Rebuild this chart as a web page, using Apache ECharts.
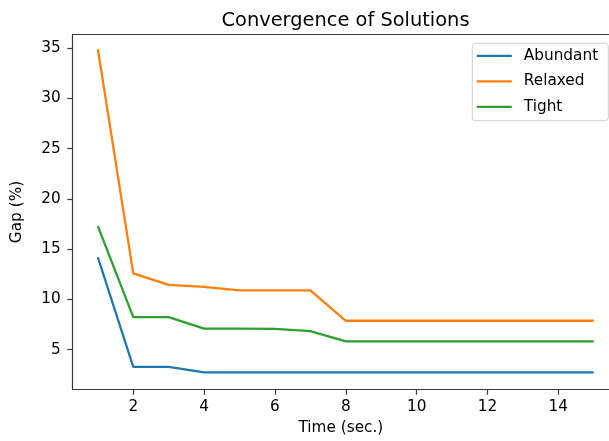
<!DOCTYPE html>
<html>
<head>
<meta charset="utf-8">
<script src="https://cdn.jsdelivr.net/npm/echarts@6/dist/echarts.min.js"></script>
<style>html,body{margin:0;padding:0;background:#fff;}#c{width:609px;height:441px;}</style>
</head>
<body>
<div id="c"></div>
<script>
const times = [1,2,3,4,5,6,7,8,9,10,11,12,13,14,15];
const abundant = [14.2,3.3,3.3,2.75,2.75,2.75,2.75,2.75,2.75,2.75,2.75,2.75,2.75,2.75,2.75];
const relaxed = [34.9,12.6,11.45,11.25,10.9,10.9,10.9,7.88,7.88,7.88,7.88,7.88,7.88,7.88,7.88];
const tight = [17.3,8.24,8.24,7.09,7.09,7.07,6.85,5.83,5.83,5.83,5.83,5.83,5.83,5.83,5.83];
const xTicks = [2,4,6,8,10,12,14];
const yTicks = [5,10,15,20,25,30,35];
const seriesNames = ['Abundant','Relaxed','Tight'];
const colors = ['#1f77b4','#ff7f0e','#2ca02c'];

const FONT = 'DejaVu Sans';
const FS = 15.3;
const SPINE = '#3a3a3a';
const pairs = arr => arr.map((v,i)=>[times[i], v]);

const chart = echarts.init(document.getElementById('c'), null, {renderer:'canvas'});
chart.setOption({
  animation: false,
  backgroundColor: '#fff',
  title: {
    text: 'Convergence of Solutions',
    left: 340.5, top: 6, textAlign: 'center',
    textStyle: {fontFamily: FONT, fontSize: 19.4, fontWeight: 'normal', color: '#000'}
  },
  grid: {
    left: 72.7, top: 34.7, right: 0, bottom: 51.7,
    show: false, containLabel: false
  },
  graphic: [{
    type: 'rect', shape: {x: 472.3, y: 43.3, width: 136, height: 77.4, r: 3},
    style: {fill: '#fff', stroke: '#d0d0d0', lineWidth: 1}, z: 5
  }],
  legend: {
    orient: 'vertical', left: 472.3, top: 43.3,
    padding: [5, 4, 9, 4.5],
    itemWidth: 35, itemHeight: 14, itemGap: 10.5,
    icon: 'path://M0,0H100V6.6H0Z',
    data: seriesNames,
    textStyle: {fontFamily: FONT, fontSize: FS, color: '#000', padding: [0,0,0,7]},
    z: 6
  },
  xAxis: [{
    type: 'value', min: 0.29, max: 15.43,
    name: 'Time (sec.)', nameLocation: 'middle', nameGap: 31,
    nameTextStyle: {fontFamily: FONT, fontSize: FS, color: '#000'},
    axisLine: {show: true, lineStyle: {color: SPINE, width: 1.2}},
    axisTick: {show: true, inside: false, length: 5.4, lineStyle: {color: SPINE, width: 1.2}, customValues: xTicks},
    axisLabel: {fontFamily: FONT, fontSize: FS, color: '#000', margin: 10, customValues: xTicks},
    splitLine: {show: false}
  }, {
    type: 'value', position: 'top', min: 0.29, max: 15.43,
    axisLine: {show: true, lineStyle: {color: SPINE, width: 1.2}},
    axisTick: {show: false}, axisLabel: {show: false}, splitLine: {show: false}
  }],
  yAxis: {
    type: 'value', min: 1.06, max: 36.35,
    name: 'Gap (%)', nameLocation: 'middle', nameGap: 48, nameRotate: 90,
    nameTextStyle: {fontFamily: FONT, fontSize: FS, color: '#000'},
    axisLine: {show: true, lineStyle: {color: SPINE, width: 1.2}},
    axisTick: {show: true, inside: false, length: 5.4, lineStyle: {color: SPINE, width: 1.2}, customValues: yTicks},
    axisLabel: {fontFamily: FONT, fontSize: FS, color: '#000', margin: 12, customValues: yTicks},
    splitLine: {show: false}
  },
  series: [
    {name: seriesNames[0], type: 'line', data: pairs(abundant), symbol: 'none', color: colors[0], lineStyle: {width: 2.3, color: colors[0]}},
    {name: seriesNames[1], type: 'line', data: pairs(relaxed), symbol: 'none', color: colors[1], lineStyle: {width: 2.3, color: colors[1]}},
    {name: seriesNames[2], type: 'line', data: pairs(tight), symbol: 'none', color: colors[2], lineStyle: {width: 2.3, color: colors[2]}}
  ]
});
</script>
</body>
</html>
